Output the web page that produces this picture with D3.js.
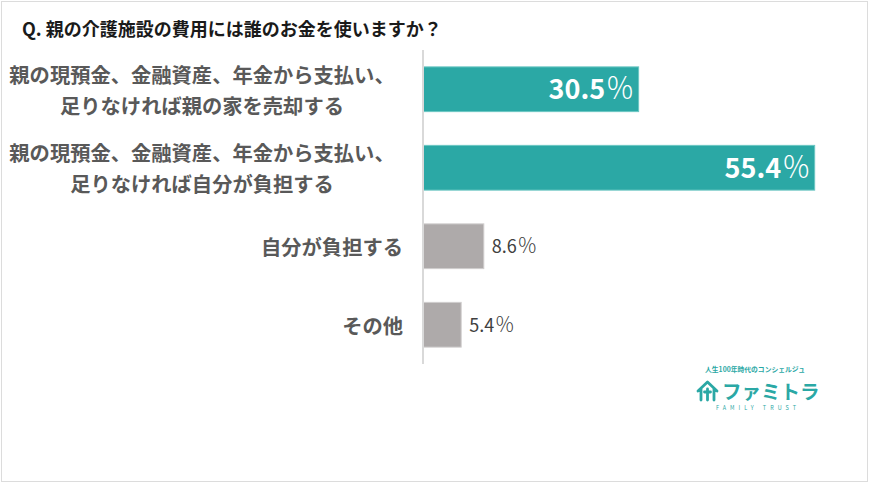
<!DOCTYPE html>
<html><head><meta charset="utf-8">
<script src="https://cdn.jsdelivr.net/npm/d3@7/dist/d3.min.js"></script>
<style>
html,body{margin:0;padding:0;background:#fff;}
svg{display:block;}
text{font-family:"Noto Sans CJK JP","Noto Sans",sans-serif;}
</style></head>
<body>
<script>
const title = "Q. 親の介護施設の費用には誰のお金を使いますか？";
const categories = [
  ["親の現預金、金融資産、年金から支払い、", "足りなければ親の家を売却する"],
  ["親の現預金、金融資産、年金から支払い、", "足りなければ自分が負担する"],
  ["自分が負担する"],
  ["その他"]
];
const values = [30.5, 55.4, 8.6, 5.4];
const highlight = [true, true, false, false];
const logoTagline = "人生100年時代のコンシェルジュ";
const logoName = "ファミトラ";
const logoSub = "FAMILY TRUST";

const W = 870, H = 485;
const svg = d3.select("body").append("svg").attr("width", W).attr("height", H);

svg.append("rect").attr("x", 1.5).attr("y", 1.5).attr("width", 866).attr("height", 480)
  .attr("fill", "#fff").attr("stroke", "#dcdcdc").attr("stroke-width", 1);

svg.append("text").attr("x", 22).attr("y", 36).attr("font-size", 18).attr("font-weight", 700)
  .attr("fill", "#1a1a1a").text(title);

const idx = d3.range(values.length);
const y = d3.scaleBand().domain(idx).range([50, 364]).paddingInner(0.43).paddingOuter(0.215);
const x = d3.scaleLinear().domain([0, 60]).range([423, 423 + 60 * 7.07]);

const teal = "#2ba8a5", gray = "#aeaaaa";

// bars
svg.selectAll("rect.bar").data(idx).join("rect").attr("class", "bar")
  .attr("x", x(0)).attr("y", i => y(i))
  .attr("width", i => x(values[i]) - x(0)).attr("height", y.bandwidth())
  .attr("fill", i => highlight[i] ? teal : gray)
  .attr("stroke", i => highlight[i] ? "#6cc6c3" : "#d0cdcd").attr("stroke-width", 1);

// axis line
svg.append("line").attr("x1", x(0)).attr("x2", x(0)).attr("y1", y.range()[0]).attr("y2", y.range()[1])
  .attr("stroke", "#d9d9d9").attr("stroke-width", 2);

// category labels
idx.forEach(i => {
  const lines = categories[i];
  const cy = y(i) + y.bandwidth() / 2;
  const t = svg.append("text").attr("font-size", 20.3).attr("font-weight", 700).attr("fill", "#595959")
    .attr("dominant-baseline", "central");
  if (lines.length === 1) {
    t.attr("x", 403).attr("y", cy).attr("text-anchor", "end").text(lines[0]);
  } else {
    t.attr("text-anchor", "middle");
    lines.forEach((l, k) => {
      t.append("tspan").attr("x", 202).attr("y", cy + (k - (lines.length - 1) / 2) * 31).text(l);
    });
  }
});

// value labels
idx.forEach(i => {
  const cy = y(i) + y.bandwidth() / 2;
  const v = values[i].toFixed(1);
  if (highlight[i]) {
    const t = svg.append("text").attr("x", x(values[i]) - 4).attr("y", cy + 10)
      .attr("text-anchor", "end").attr("fill", "#fff").attr("font-size", 27);
    t.append("tspan").attr("font-weight", 700).text(v);
    t.append("tspan").attr("font-weight", 300).attr("dx", 0.5).attr("font-size", 29).text("％");
  } else {
    const t = svg.append("text").attr("x", x(values[i]) + 8).attr("y", cy + 7)
      .attr("fill", "#404040").attr("font-size", 18);
    t.append("tspan").text(v);
    t.append("tspan").attr("dx", 0.5).attr("font-size", 20).attr("font-weight", 300).text("％");
  }
});

// logo
const lg = svg.append("g");
lg.append("text").attr("x", 755).attr("y", 372).attr("text-anchor", "middle").attr("font-size", 6.8)
  .attr("font-weight", 700).attr("fill", teal).text(logoTagline);
lg.append("path").attr("d", "M698,391 L707.5,382 L717,391 M701,388.5 V400 M714,388.5 V400 M704.5,392 H710.5 M707.5,389 V400")
  .attr("fill", "none").attr("stroke", teal).attr("stroke-width", 2.8).attr("stroke-linecap", "round").attr("stroke-linejoin", "round");
lg.append("text").attr("x", 722).attr("y", 399).attr("font-size", 19.5).attr("font-weight", 700)
  .attr("fill", teal).text(logoName);
lg.append("text").attr("x", 758).attr("y", 410).attr("text-anchor", "middle").attr("font-size", 5.5)
  .attr("letter-spacing", 4).attr("fill", teal).text(logoSub);
</script>
</body></html>
